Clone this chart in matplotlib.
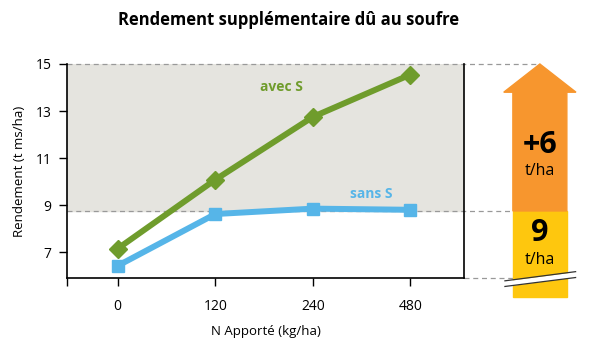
import numpy as np
import matplotlib.pyplot as plt
from matplotlib.patches import Polygon, Rectangle
import matplotlib.transforms as mtransforms

plt.rcParams['font.family'] = ['Open Sans', 'DejaVu Sans']

# data
doses = ["0", "120", "240", "480"]
avec_s = [7.15, 10.08, 12.75, 14.55]
sans_s = [6.42, 8.62, 8.85, 8.8]
y_ticks = [7, 9, 11, 13, 15]
base_gain = 9      # t/ha without S
extra_gain = 6     # t/ha added by S
band_low = 8.75    # level of the sans S plateau

green = '#6f9c2c'
blue = '#56b5e8'
orange = '#f7962e'
yellow = '#fec70e'
grey = '#e5e4df'

fig = plt.figure(figsize=(6.01, 3.45), dpi=100)
ax = fig.add_axes([0.1115, 0.1942, 0.6606, 0.6203])

x = np.arange(len(doses))
ymin, ymax = 5.9, 15

ax.axhspan(band_low, ymax, color=grey, zorder=0)
ax.plot(x, avec_s, color=green, lw=4.3, marker='D', ms=9, zorder=3)
ax.plot(x, sans_s, color=blue, lw=4.3, marker='s', ms=9, zorder=3)

ax.text(1.68, 13.85, "avec S", color=green, fontsize=10, fontweight='bold', ha='center')
ax.text(2.6, 9.3, "sans S", color=blue, fontsize=10, fontweight='bold', ha='center')

ax.set_xlim(-0.52, 3.55)
ax.set_ylim(ymin, ymax)
ax.set_xticks(x)
ax.set_xticklabels(doses, fontsize=10)
ax.set_xticks([-0.52], minor=True)
ax.set_yticks(y_ticks)
ax.set_yticklabels([str(t) for t in y_ticks], fontsize=10)
ax.tick_params(axis='both', which='both', direction='out', length=6, width=1, color='black', pad=5)
ax.tick_params(axis='x', pad=9)
ax.spines['top'].set_visible(False)
for s in ['left', 'bottom', 'right']:
    ax.spines[s].set_linewidth(1.2)
ax.set_xlabel("N Apporté (kg/ha)", fontsize=9.5, labelpad=8)
ax.set_ylabel("Rendement (t ms/ha)", fontsize=9.5, labelpad=7)

fig.suptitle("Rendement supplémentaire dû au soufre", fontsize=12, fontweight='bold', x=0.48, y=0.968)

# right-hand arrow: x in axes fraction, y in data units
tr = mtransforms.blended_transform_factory(ax.transAxes, ax.transData)
cx, shaft, head = 1.191, 0.068, 0.091
head_h = 1.2
top = base_gain + extra_gain
bottom = ymin - 0.8

dash = dict(color='#999999', lw=0.9, ls=(0, (4, 3)), transform=tr, clip_on=False, zorder=1)
ax.plot([0, cx], [top, top], **dash)
ax.plot([0, cx - shaft], [band_low, band_low], **dash)
ax.plot([1, cx - shaft], [ymin, ymin], **dash)

ax.add_patch(Rectangle((cx - shaft, bottom), 2 * shaft, band_low - bottom, transform=tr,
                       color=yellow, clip_on=False, zorder=2))
ax.add_patch(Polygon([(cx - shaft, band_low), (cx + shaft, band_low), (cx + shaft, top - head_h),
                      (cx + head, top - head_h), (cx, top), (cx - head, top - head_h),
                      (cx - shaft, top - head_h)], closed=True, transform=tr,
                     color=orange, clip_on=False, zorder=2))

# break marks
bx = np.array([cx - shaft - 0.02, cx + shaft + 0.022])
ax.fill_between(bx, [ymin - 0.35, ymin + 0.05], [ymin - 0.12, ymin + 0.27], transform=tr,
                color='white', clip_on=False, zorder=3, lw=0)
ax.plot(bx, [ymin - 0.36, ymin + 0.02], color='#333333', lw=0.9, transform=tr, clip_on=False, zorder=4)
ax.plot(bx, [ymin - 0.12, ymin + 0.27], color='#333333', lw=0.9, transform=tr, clip_on=False, zorder=4)

ax.text(cx, 11.57, "+%d" % extra_gain, transform=tr, ha='center', va='center', fontsize=22,
        fontweight='bold', zorder=5)
ax.text(cx, 10.45, "t/ha", transform=tr, ha='center', va='center', fontsize=11.5, zorder=5)
ax.text(cx, 7.8, "%d" % base_gain, transform=tr, ha='center', va='center', fontsize=22,
        fontweight='bold', zorder=5)
ax.text(cx, 6.68, "t/ha", transform=tr, ha='center', va='center', fontsize=11.5, zorder=5)

fig.savefig("out.png", dpi=100)
